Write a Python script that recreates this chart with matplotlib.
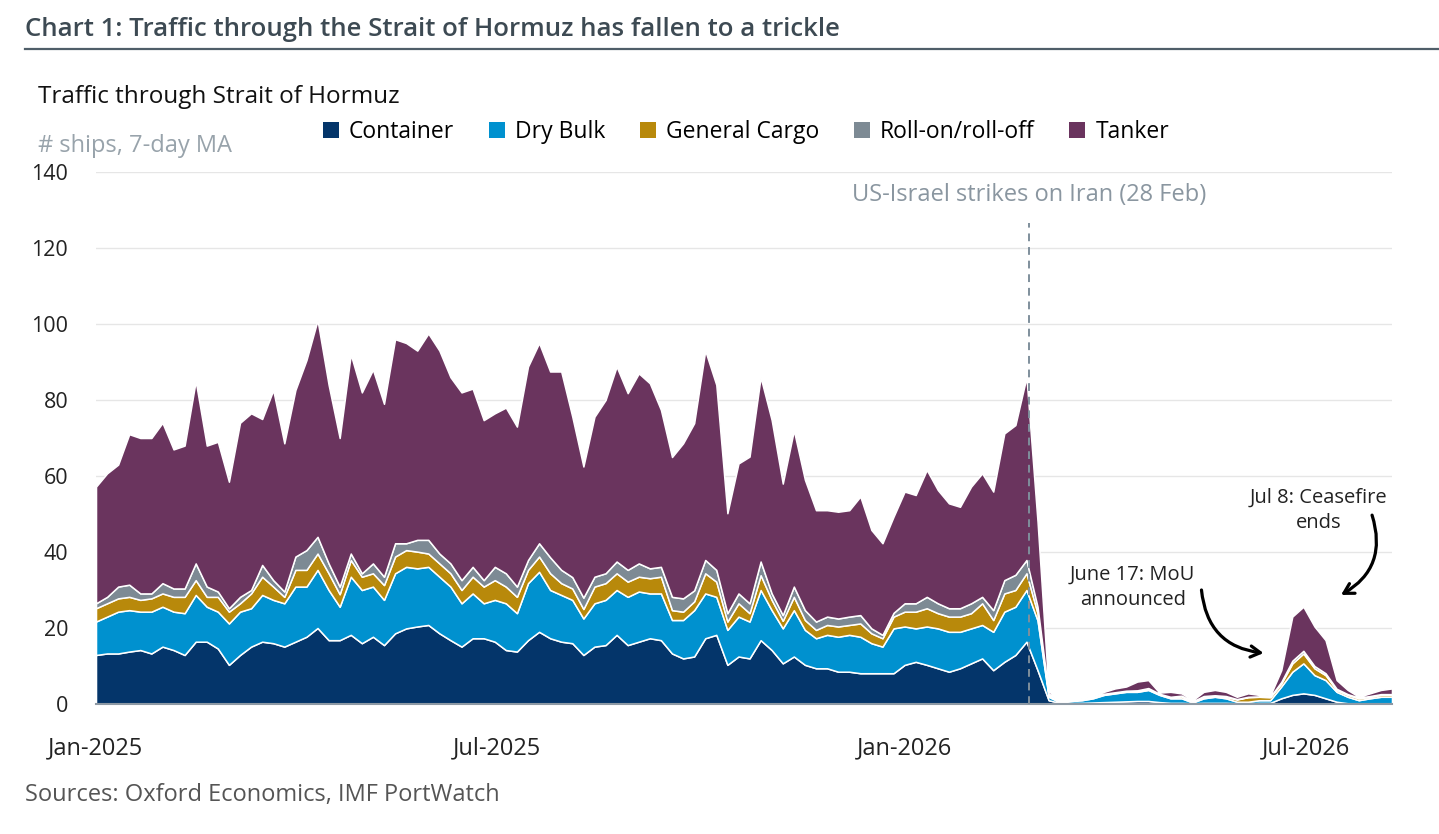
import numpy as np
import pandas as pd
import matplotlib
matplotlib.use("Agg")
import matplotlib.pyplot as plt
import matplotlib.dates as mdates
from matplotlib.patches import Patch

plt.rcParams['font.family'] = ['Open Sans', 'DejaVu Sans']

# 7-day MA, read every 5 days from 1 Jan 2025
dates = pd.date_range('2025-01-01', periods=118, freq='5D')

container = [12.9, 13.3, 13.3, 13.8, 14.2, 13.3, 15.1, 14.2, 12.9, 16.4, 16.4, 14.6, 10.3, 12.9, 15.1, 16.4, 16.0, 15.1, 16.4, 17.7,
             20.0, 16.8, 16.8, 18.2, 16.0, 17.7, 15.5, 18.6, 19.9, 20.4, 20.8, 18.6, 16.8, 15.1, 17.3, 17.3, 16.4, 14.2, 13.8, 16.8,
             19.0, 17.3, 16.4, 16.0, 12.9, 15.1, 15.5, 18.2, 15.5, 16.4, 17.3, 16.8, 13.3, 12.0, 12.5, 17.3, 18.2, 10.3, 12.5, 12.0,
             16.8, 14.2, 10.7, 12.5, 10.3, 9.4, 9.4, 8.5, 8.5, 8.1, 8.1, 8.1, 8.1, 10.3, 11.1, 10.3, 9.4, 8.5, 9.4, 10.7,
             12.0, 8.9, 11.1, 12.9, 16.4, 8.9, 1.0, 0.3, 0.3, 0.3, 0.4, 0.5, 0.6, 0.7, 0.8, 0.8, 0.5, 0.3, 0.3, 0.2,
             0.3, 0.3, 0.3, 0.2, 0.2, 0.3, 0.3, 1.5, 2.4, 2.8, 2.4, 1.5, 0.6, 0.2, 0.2, 0.2, 0.2, 0.2]
dry_bulk = [8.8, 9.7, 11.0, 10.9, 10.1, 11.0, 10.5, 10.1, 11.0, 12.3, 9.2, 9.7, 10.9, 11.4, 10.1, 12.3, 11.4, 11.4, 14.5, 13.2,
            15.3, 13.2, 8.8, 15.3, 14.0, 13.2, 11.9, 15.8, 16.2, 15.3, 15.3, 14.9, 14.1, 11.4, 11.8, 9.2, 11.0, 12.3, 10.1, 15.0,
            15.8, 12.7, 12.3, 11.4, 9.6, 11.4, 11.9, 11.8, 12.7, 13.2, 11.8, 12.3, 8.8, 10.1, 12.2, 11.8, 10.0, 9.2, 10.5, 9.7,
            13.2, 10.5, 9.2, 12.2, 9.2, 7.9, 8.8, 9.2, 9.7, 9.6, 7.9, 7.0, 11.8, 10.1, 8.8, 10.1, 10.5, 10.5, 9.6, 9.2,
            8.8, 10.1, 13.2, 12.7, 13.6, 13.1, 0.9, 0.2, 0.5, 0.7, 1.1, 1.9, 2.2, 2.5, 2.4, 2.9, 1.9, 1.2, 1.2, 0.2,
            1.2, 1.6, 1.2, 0.4, 0.4, 0.7, 0.7, 3.1, 6.1, 7.9, 5.2, 4.8, 2.6, 1.7, 0.8, 1.3, 1.7, 1.7]
general_cargo = [3.5, 3.5, 3.5, 3.5, 3.1, 3.5, 3.5, 3.9, 4.3, 3.9, 2.6, 3.9, 3.1, 2.2, 3.9, 4.8, 3.5, 1.7, 4.4, 4.4,
                 4.3, 4.4, 3.3, 4.4, 3.5, 3.5, 3.9, 4.4, 4.4, 4.4, 3.5, 3.5, 3.5, 3.5, 4.4, 4.4, 5.2, 4.4, 4.3, 3.5,
                 4.0, 4.4, 3.1, 3.0, 2.5, 4.4, 4.4, 4.4, 4.0, 3.9, 4.0, 4.4, 2.6, 2.2, 2.3, 5.3, 4.0, 2.2, 3.5, 2.2,
                 3.9, 2.7, 2.0, 3.5, 2.6, 2.2, 2.6, 2.7, 2.6, 3.5, 2.6, 2.2, 3.1, 3.9, 4.4, 4.8, 4.0, 4.0, 4.0, 4.0,
                 5.7, 3.1, 4.8, 4.4, 4.4, 1.9, 0.5, 0.1, 0.1, 0.2, 0.2, 0.2, 0.2, 0.2, 0.2, 0.3, 0.2, 0.3, 0.5, 0.2,
                 0.4, 0.2, 0.4, 0.6, 1.2, 0.9, 0.8, 0.8, 2.2, 2.6, 1.8, 1.3, 0.5, 0.5, 0.5, 0.4, 0.5, 0.5]
roro = [1.3, 1.7, 3.1, 3.2, 1.7, 1.3, 2.7, 2.2, 2.2, 4.4, 2.7, 1.4, 0.9, 1.7, 0.9, 3.1, 1.7, 1.4, 3.5, 5.2,
        4.4, 2.6, 2.0, 1.7, 0.9, 2.6, 2.2, 3.5, 1.8, 3.1, 3.6, 2.6, 2.6, 2.6, 2.6, 1.7, 3.5, 3.5, 2.7, 2.6,
        3.5, 4.2, 3.5, 3.0, 3.0, 2.6, 2.6, 3.1, 3.1, 3.5, 2.6, 2.6, 3.5, 3.5, 2.9, 3.5, 3.1, 2.2, 2.6, 2.6,
        3.6, 1.7, 1.5, 2.7, 2.6, 2.2, 2.2, 2.1, 2.2, 2.2, 1.3, 0.9, 1.0, 2.2, 2.2, 3.0, 2.6, 2.2, 2.2, 2.6,
        1.7, 2.6, 3.5, 4.0, 3.5, 1.7, 0.4, 0.0, 0.1, 0.1, 0.1, 0.1, 0.1, 0.1, 0.2, 0.2, 0.1, 0.1, 0.2, 0.1,
        0.2, 0.2, 0.2, 0.1, 0.1, 0.1, 0.1, 0.4, 0.7, 0.7, 0.6, 0.5, 0.3, 0.2, 0.2, 0.2, 0.2, 0.2]
tanker = [30.7, 32.5, 32.1, 39.6, 40.9, 40.9, 42.2, 36.6, 37.6, 48.0, 37.1, 39.4, 33.3, 45.8, 46.5, 38.4, 50.0, 39.0, 43.8, 50.0,
          57.0, 47.0, 39.1, 52.4, 47.6, 51.0, 45.5, 53.7, 52.7, 49.8, 54.3, 53.4, 49.0, 49.4, 46.9, 42.1, 40.4, 43.6, 42.1, 50.9,
          52.7, 48.9, 52.2, 42.2, 34.5, 42.1, 45.6, 51.3, 46.5, 50.0, 48.7, 41.3, 36.8, 40.8, 44.0, 55.1, 48.7, 26.3, 34.2, 38.6,
          48.5, 45.6, 34.6, 41.1, 34.3, 29.3, 28.0, 28.1, 28.0, 31.2, 25.9, 24.1, 25.3, 29.4, 28.5, 33.4, 29.8, 27.6, 26.7, 30.7,
          32.5, 31.2, 38.6, 39.4, 48.1, 22.4, 0.7, 0.0, 0.0, 0.2, 0.2, 0.5, 1.0, 1.1, 2.3, 2.1, 0.3, 1.3, 0.6, 0.3,
          1.1, 1.4, 1.1, 0.6, 0.9, 0.4, 0.3, 3.1, 11.6, 11.6, 10.4, 8.7, 2.3, 1.1, 0.2, 0.7, 1.1, 1.5]

labels = ['Container', 'Dry Bulk', 'General Cargo', 'Roll-on/roll-off', 'Tanker']
colors = ['#04356a', '#0091cf', '#b8890b', '#7d8a94', '#6a345e']

strike_date = pd.Timestamp('2026-02-26')
tick_dates = pd.to_datetime(['2025-01-01', '2025-07-01', '2026-01-01', '2026-07-01'])
tick_labels = ['Jan-2025', 'Jul-2025', 'Jan-2026', 'Jul-2026']

W, H = 1439, 834
fig = plt.figure(figsize=(W / 100, H / 100), dpi=100)
ax = fig.add_axes([96 / W, 1 - 704 / H, 1296 / W, 532 / H])

ax.stackplot(dates, container, dry_bulk, general_cargo, roro, tanker,
             colors=colors, edgecolor='white', linewidth=1.1, zorder=2)

ax.set_xlim(dates[0], dates[-1])
ax.set_ylim(0, 140)
ax.set_yticks(range(0, 141, 20))
ax.set_xticks(tick_dates)
ax.set_xticklabels(tick_labels)
ax.tick_params(axis='both', length=0, colors='#222222')
ax.tick_params(axis='y', pad=20, labelsize=15.5)
ax.tick_params(axis='x', pad=23, labelsize=17)
ax.grid(axis='y', color='#e6e6e6', linewidth=1, zorder=0)
ax.set_axisbelow(True)
for s in ['top', 'right', 'left']:
    ax.spines[s].set_visible(False)
ax.spines['bottom'].set_color('#8d99a4')
ax.spines['bottom'].set_linewidth(1.5)

# strike marker
ax.vlines(strike_date, 0, 126.5, colors='#7f8f9c', linestyles=(0, (4, 3)), linewidth=1.4, zorder=3)
ax.text(strike_date, 134, 'US-Israel strikes on Iran (28 Feb)', ha='center', va='center',
        fontsize=17, color='#8a96a0')

def dn(s):
    return mdates.date2num(pd.Timestamp(s))

ax.text(dn('2026-04-14'), 30.8, 'June 17: MoU\nannounced', ha='center', va='center',
        fontsize=14.5, fontweight='medium', color='#222222', linespacing=1.35)
ax.annotate('', xy=(dn('2026-06-12'), 13.4), xytext=(dn('2026-05-15'), 30),
            arrowprops=dict(arrowstyle='->,head_length=0.7,head_width=0.4', color='black', lw=2.3,
                            connectionstyle='arc3,rad=0.4', shrinkA=0, shrinkB=0))
ax.text(dn('2026-07-07'), 51, 'Jul 8: Ceasefire\nends', ha='center', va='center',
        fontsize=14.5, fontweight='medium', color='#222222', linespacing=1.35)
ax.annotate('', xy=(dn('2026-07-17'), 28.7), xytext=(dn('2026-07-31'), 49.7),
            arrowprops=dict(arrowstyle='->,head_length=0.7,head_width=0.4', color='black', lw=2.3,
                            connectionstyle='arc3,rad=-0.4', shrinkA=0, shrinkB=0))

# titles
fig.text(25 / W, 1 - 30 / H, 'Chart 1: Traffic through the Strait of Hormuz has fallen to a trickle',
         fontsize=18.5, fontweight='semibold', color='#3d4a53', va='center', ha='left')
fig.add_artist(plt.Line2D([25 / W, 1], [1 - 49 / H, 1 - 49 / H], color='#4f5e69', linewidth=1.6))
fig.text(38 / W, 1 - 97 / H, 'Traffic through Strait of Hormuz', fontsize=17.5, fontweight='medium',
         color='#111111', va='center', ha='left')
fig.text(38 / W, 1 - 146 / H, '# ships, 7-day MA', fontsize=17, color='#98a3ab', va='center', ha='left')
fig.text(25 / W, 1 - 795 / H, 'Sources: Oxford Economics, IMF PortWatch', fontsize=17, color='#555555',
         va='center', ha='left')

handles = [Patch(facecolor=c, edgecolor='none') for c in colors]
fig.legend(handles, labels, loc='center', bbox_to_anchor=(746 / W, 1 - 132 / H), ncol=5, frameon=False,
           fontsize=16.5, handlelength=0.7, handleheight=0.7, handletextpad=0.45, columnspacing=1.5)

fig.savefig('out.png', dpi=100)
